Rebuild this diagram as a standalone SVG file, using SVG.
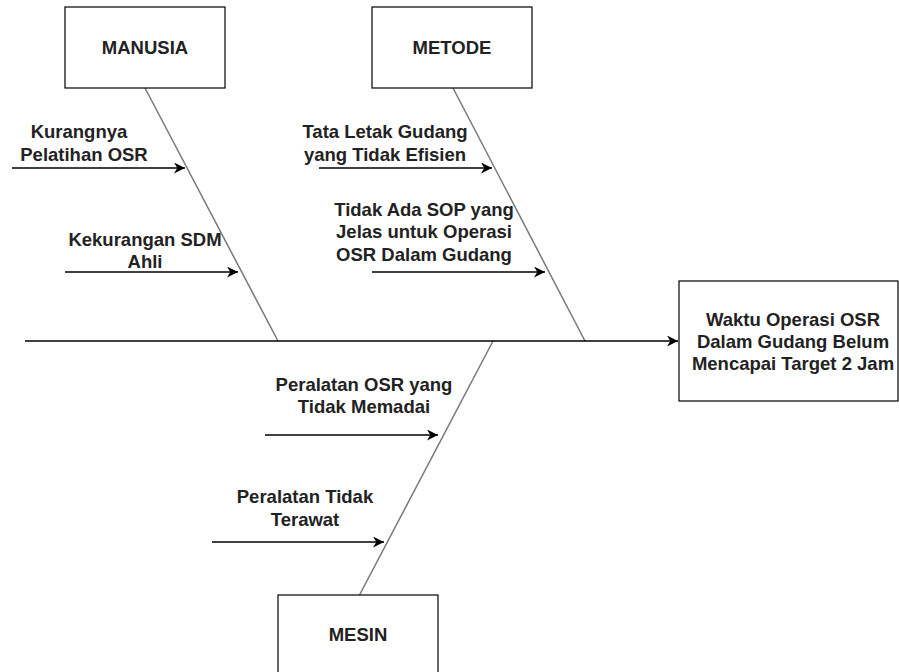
<svg xmlns="http://www.w3.org/2000/svg" width="899" height="672" viewBox="0 0 899 672">
<defs>
<marker id="ah" viewBox="0 0 10 10" refX="10" refY="5" markerWidth="11" markerHeight="11" markerUnits="userSpaceOnUse" orient="auto">
<path d="M0,0 L10,5 L0,10 L3,5 z" fill="#000"/>
</marker>
</defs>
<style>
.box{fill:#fff;stroke:#000;stroke-width:1.2}
.t{font-family:"Liberation Sans",Arial,sans-serif;font-size:18.5px;font-weight:bold;fill:#222;text-anchor:middle}
.bone{stroke:#777;stroke-width:1.5;fill:none}
.arr{stroke:#000;stroke-width:1.3;fill:none;marker-end:url(#ah)}
</style>
<rect width="899" height="672" fill="#fff"/>
<g id="connectors">
<line class="bone" x1="145" y1="88" x2="278" y2="341"/>
<line class="bone" x1="453" y1="88" x2="585" y2="341"/>
<line class="bone" x1="493" y1="341" x2="359" y2="596"/>
<line class="arr" x1="25" y1="341" x2="678" y2="341"/>
<line class="arr" x1="12" y1="168" x2="185" y2="168"/>
<line class="arr" x1="65" y1="272" x2="238" y2="272"/>
<line class="arr" x1="319" y1="168" x2="492" y2="168"/>
<line class="arr" x1="372" y1="272" x2="545" y2="272"/>
<line class="arr" x1="265" y1="435" x2="438" y2="435"/>
<line class="arr" x1="212" y1="542" x2="384" y2="542"/>
</g>
<g id="manusia">
<rect class="box" x="65" y="7" width="160" height="81"/>
<text class="t" x="145" y="54">MANUSIA</text>
</g>
<g id="metode">
<rect class="box" x="372" y="7" width="160" height="81"/>
<text class="t" x="452" y="54">METODE</text>
</g>
<g id="mesin">
<rect class="box" x="278" y="595" width="160" height="81"/>
<text class="t" x="358" y="641">MESIN</text>
</g>
<g id="effect">
<rect class="box" x="679" y="281" width="219" height="120"/>
<text class="t" x="793" y="326">Waktu Operasi OSR</text>
<text class="t" x="793" y="348">Dalam Gudang Belum</text>
<text class="t" x="793" y="370">Mencapai Target 2 Jam</text>
</g>
<g id="cause1">
<text class="t" x="79" y="138">Kurangnya</text>
<text class="t" x="84" y="161">Pelatihan OSR</text>
</g>
<g id="cause2">
<text class="t" x="145" y="246">Kekurangan SDM</text>
<text class="t" x="145" y="268">Ahli</text>
</g>
<g id="cause3">
<text class="t" x="385" y="138">Tata Letak Gudang</text>
<text class="t" x="385" y="161">yang Tidak Efisien</text>
</g>
<g id="cause4">
<text class="t" x="424" y="216">Tidak Ada SOP yang</text>
<text class="t" x="424" y="238">Jelas untuk Operasi</text>
<text class="t" x="424" y="261">OSR Dalam Gudang</text>
</g>
<g id="cause5">
<text class="t" x="364" y="391">Peralatan OSR yang</text>
<text class="t" x="364" y="413">Tidak Memadai</text>
</g>
<g id="cause6">
<text class="t" x="305" y="503">Peralatan Tidak</text>
<text class="t" x="305" y="526">Terawat</text>
</g>
</svg>
